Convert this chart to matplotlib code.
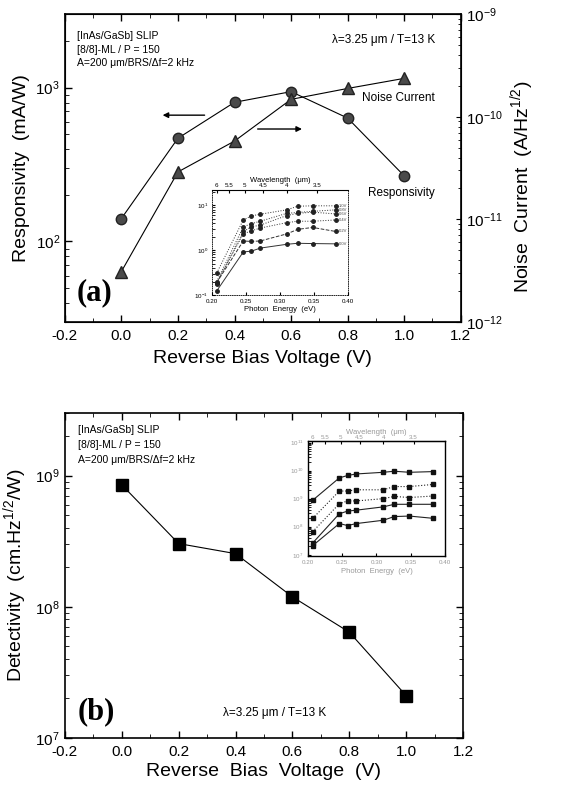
import matplotlib
matplotlib.use('Agg')
import matplotlib.pyplot as plt
from matplotlib.ticker import NullFormatter, MultipleLocator

plt.rcParams['font.family'] = ['Liberation Sans', 'DejaVu Sans']
plt.rcParams['mathtext.fontset'] = 'custom'
plt.rcParams['mathtext.rm'] = 'Liberation Sans'
plt.rcParams['axes.unicode_minus'] = False

# main data
bias = [0.0, 0.2, 0.4, 0.6, 0.8, 1.0]
responsivity = [141, 469, 803, 942, 634, 267]          # mA/W
noise_current = [3.1e-12, 2.9e-11, 5.8e-11, 1.48e-10, 1.89e-10, 2.37e-10]  # A/Hz^1/2
detectivity = [8.5e8, 3.03e8, 2.54e8, 1.19e8, 6.4e7, 2.1e7]

# insets: spectra vs photon energy (eV)
energy = [0.207, 0.246, 0.258, 0.271, 0.31, 0.326, 0.348, 0.382]
spectra_a = [
    [0.31, 4.7, 5.8, 6.3, 7.9, 9.5, 9.7, 9.7],
    [0.20, 3.3, 3.9, 4.4, 6.6, 6.9, 7.3, 7.9],
    [0.18, 2.6, 3.3, 3.6, 5.9, 6.6, 7.0, 6.4],
    [0.19, 2.3, 2.7, 3.1, 4.1, 4.4, 4.4, 4.7],
    [0.19, 1.6, 1.56, 1.6, 2.3, 2.9, 3.2, 2.6],
    [0.124, 0.91, 0.95, 1.11, 1.35, 1.42, 1.40, 1.38],
]
labels_a = ['1.0V', '0.8V', '0.6V', '0.4V', '0.2V', '0.0V']
spectra_b = [
    [8.7e8, 5.5e9, 6.7e9, 7.6e9, 8.7e9, 9.5e9, 8.7e9, 9.2e9],
    [1.97e8, 1.87e9, 1.87e9, 2.07e9, 2.07e9, 2.7e9, 2.7e9, 3.2e9],
    [6.6e7, 6.6e8, 8.3e8, 8.3e8, 1.0e9, 1.2e9, 1.1e9, 1.24e9],
    [2.6e7, 2.9e8, 3.6e8, 3.9e8, 5.1e8, 6.3e8, 6.3e8, 6.3e8],
    [2.1e7, 1.3e8, 1.1e8, 1.3e8, 1.7e8, 2.3e8, 2.4e8, 2.0e8],
]
wl_ticks = [6, 5.5, 5, 4.5, 4, 3.5]
wl_labels = ['6', '5.5', '5', '4.5', '4', '3.5']
e_ticks = [0.20, 0.25, 0.30, 0.35, 0.40]
e_labels = ['0.20', '0.25', '0.30', '0.35', '0.40']

info = '[InAs/GaSb] SLIP\n[8/8]-ML / P = 150\nA=200 \u03bcm/BRS/\u0394f=2 kHz'
cond = '\u03bb=3.25 \u03bcm / T=13 K'

fig = plt.figure(figsize=(5.84, 7.91), dpi=100)


def style_main(ax):
    ax.set_xlim(-0.2, 1.2)
    ax.xaxis.set_major_locator(MultipleLocator(0.2))
    ax.xaxis.set_minor_locator(MultipleLocator(0.1))
    ax.tick_params(which='both', direction='in', top=True, labelsize=11)
    ax.tick_params(which='major', length=5, width=1)
    ax.tick_params(which='minor', length=3)
    ax.tick_params(axis='x', pad=5)
    for s in ax.spines.values():
        s.set_linewidth(1.2)


def energy_to_wl(e):
    return 1.24 / e


# ---------- panel (a)
ax1 = fig.add_axes([0.111, 0.593, 0.678, 0.389])
ax1.set_yscale('log')
ax1.set_ylim(30, 3000)
style_main(ax1)
ax1.plot(bias, responsivity, '-', color='black', lw=0.8,
         marker='o', ms=7.5, mfc='#4a4a4a', mec='#222222')
ax1.set_xlabel('Reverse Bias Voltage (V)', fontsize=14, labelpad=5)
ax1.set_ylabel('Responsivity  (mA/W)', fontsize=14, labelpad=4)
ax1.yaxis.set_minor_formatter(NullFormatter())

ax2 = ax1.twinx()
ax2.set_yscale('log')
ax2.set_ylim(1e-12, 1e-9)
ax2.plot(bias, noise_current, '-', color='black', lw=0.8,
         marker='^', ms=8.5, mfc='#4a4a4a', mec='#222222')
ax2.tick_params(which='both', direction='in', labelsize=11)
ax2.yaxis.set_minor_formatter(NullFormatter())
ax2.set_ylabel('Noise  Current  (A/Hz$^{1/2}$)', fontsize=14, labelpad=6)
ax2.yaxis.set_label_coords(1.12, 0.44)

ax1.text(0.03, 0.945, info, transform=ax1.transAxes, fontsize=7.5,
         va='top', linespacing=1.45)
ax1.text(0.935, 0.915, cond, transform=ax1.transAxes,
         fontsize=8.5, ha='right', va='center')
ax1.text(0.935, 0.727, 'Noise Current', transform=ax1.transAxes,
         fontsize=8.5, ha='right', va='center')
ax1.text(0.935, 0.419, 'Responsivity', transform=ax1.transAxes,
         fontsize=8.5, ha='right', va='center')
ax1.text(0.03, 0.095, '(a)', transform=ax1.transAxes, fontsize=22,
         fontweight='bold', family='Liberation Serif', va='center')
ax1.annotate('', xy=(0.24, 0.672), xytext=(0.36, 0.672), xycoords='axes fraction',
             arrowprops=dict(arrowstyle='-|>', color='black', lw=1, mutation_scale=8))
ax1.annotate('', xy=(0.606, 0.627), xytext=(0.48, 0.627), xycoords='axes fraction',
             arrowprops=dict(arrowstyle='-|>', color='black', lw=1, mutation_scale=8))

# inset (a)
axi = fig.add_axes([0.363, 0.627, 0.233, 0.133])
axi.set_yscale('log')
axi.set_xlim(0.20, 0.40)
axi.set_ylim(0.1, 22)
styles = [':', ':', ':', ':', '--', '-']
for vals, ls, lab in zip(spectra_a, styles, labels_a):
    axi.plot(energy, vals, ls, color='#333333', lw=0.7, marker='o', ms=2.5,
             mfc='#222222', mec='#222222')
    axi.text(0.386, vals[-1], lab, fontsize=3, va='center', color='#444444')
axi.set_xticks(e_ticks)
axi.set_xticklabels(e_labels)
axi.tick_params(which='both', direction='in', labelsize=4.5, length=2, pad=3)
axi.tick_params(axis='x', pad=3)
axi.yaxis.set_minor_formatter(NullFormatter())
axi.set_xlabel('Photon  Energy  (eV)', fontsize=5.5, labelpad=1)
for s in axi.spines.values():
    s.set_linewidth(0.6)
    s.set_linestyle(':')
axt = axi.secondary_xaxis('top', functions=(energy_to_wl, energy_to_wl))
axt.set_xticks(wl_ticks)
axt.set_xticklabels(wl_labels)
axt.tick_params(direction='in', labelsize=4.5, length=2, pad=1)
axt.set_xlabel('Wavelength  (\u03bcm)', fontsize=5.5, labelpad=1)

# ---------- panel (b)
ax3 = fig.add_axes([0.111, 0.067, 0.682, 0.411])
ax3.set_yscale('log')
ax3.set_ylim(1e7, 3e9)
style_main(ax3)
ax3.tick_params(which='both', right=True)
ax3.yaxis.set_minor_formatter(NullFormatter())
ax3.plot(bias, detectivity, '-', color='black', lw=0.8,
         marker='s', ms=8, mfc='black', mec='black')
ax3.set_xlabel('Reverse  Bias  Voltage  (V)', fontsize=14, labelpad=3)
ax3.set_ylabel('Detectivity  (cm.Hz$^{1/2}$/W)', fontsize=14, labelpad=4)
ax3.text(0.033, 0.963, info, transform=ax3.transAxes, fontsize=7.5,
         va='top', linespacing=1.6)
ax3.text(0.397, 0.077, cond, transform=ax3.transAxes, fontsize=8.5, va='center')
ax3.text(0.033, 0.08, '(b)', transform=ax3.transAxes, fontsize=22,
         fontweight='bold', family='Liberation Serif', va='center')

# inset (b)
axj = fig.add_axes([0.527, 0.297, 0.235, 0.145])
axj.set_yscale('log')
axj.set_xlim(0.20, 0.40)
axj.set_ylim(9e6, 1.1e11)
styles_b = ['-', ':', ':', '-', '-']
for vals, ls in zip(spectra_b, styles_b):
    axj.plot(energy, vals, ls, color='#222222', lw=0.8, marker='s', ms=2.5,
             mfc='#111111', mec='#111111')
axj.set_xticks(e_ticks)
axj.set_xticklabels(e_labels)
axj.tick_params(which='both', direction='in', labelsize=4.5, length=2, pad=3,
                labelcolor='#999999')
axj.tick_params(axis='x', pad=3)
axj.yaxis.set_minor_formatter(NullFormatter())
axj.set_xlabel('Photon  Energy  (eV)', fontsize=5.5, labelpad=2, color='#999999')
for s in axj.spines.values():
    s.set_linewidth(1.0)
axu = axj.secondary_xaxis('top', functions=(energy_to_wl, energy_to_wl))
axu.set_xticks(wl_ticks)
axu.set_xticklabels(wl_labels)
axu.tick_params(direction='in', labelsize=4.5, length=2, pad=1, labelcolor='#999999')
axu.set_xlabel('Wavelength  (\u03bcm)', fontsize=5.5, labelpad=1, color='#999999')

fig.savefig('out.png', dpi=100)
